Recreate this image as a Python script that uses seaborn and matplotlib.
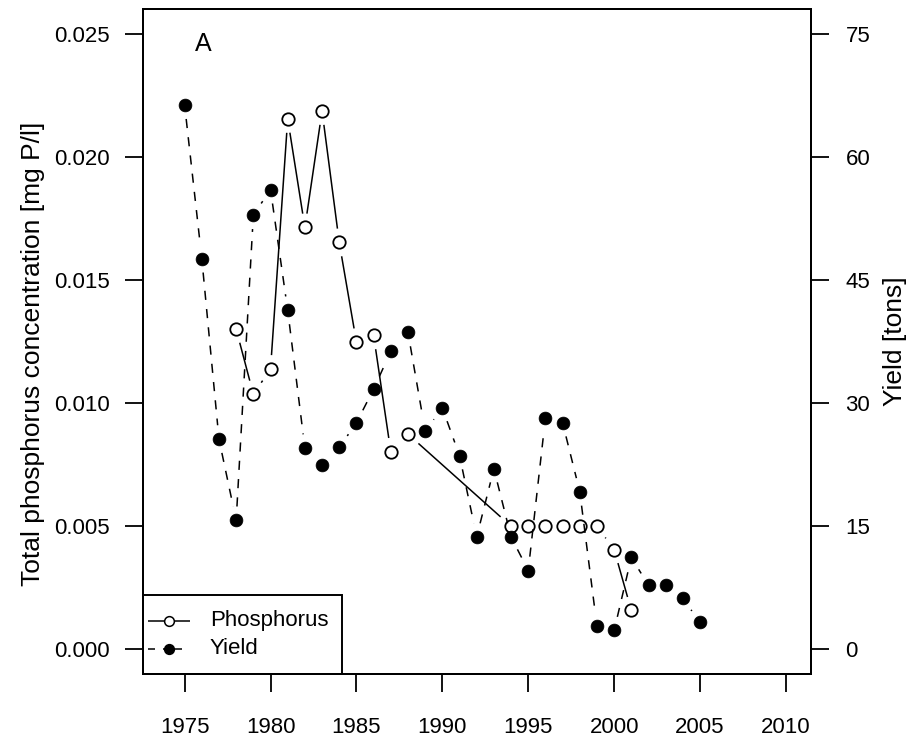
import numpy as np
import matplotlib
matplotlib.use("Agg")
import matplotlib.pyplot as plt
from matplotlib.patches import Rectangle
import seaborn as sns

# Annual fish yield (tons) and total phosphorus concentration (mg P/l)
yield_years = list(range(1975, 2006))
yield_tons = [66.3, 47.6, 25.6, 15.7, 52.9, 56.0, 41.3, 24.5, 22.5, 24.6,
              27.6, 31.7, 36.3, 38.6, 26.6, 29.4, 23.6, 13.7, 22.0, 13.7,
              9.6, 28.2, 27.6, 19.2, 2.8, 2.3, 11.2, 7.8, 7.8, 6.2, 3.3]

phos_years = [1978, 1979, 1980, 1981, 1982, 1983, 1984, 1985, 1986, 1987,
              1988, 1994, 1995, 1996, 1997, 1998, 1999, 2000, 2001]
phos_conc = [0.0130, 0.01036, 0.01138, 0.02154, 0.01713, 0.02186, 0.01652,
             0.01247, 0.01275, 0.00802, 0.00874, 0.0050, 0.0050, 0.0050,
             0.0050, 0.0050, 0.0050, 0.00405, 0.00158]

x_ticks = [1975, 1980, 1985, 1990, 1995, 2000, 2005, 2010]
phos_ticks = [0.000, 0.005, 0.010, 0.015, 0.020, 0.025]
yield_ticks = [0, 15, 30, 45, 60, 75]

sns.set_theme(style="white")
plt.rcParams["font.family"] = ["Liberation Sans", "DejaVu Sans"]

TICK_FS = 16
LABEL_FS = 19
LW = 1.1
GAP = 14  # pixels left blank between a point and its connecting line

fig = plt.figure(figsize=(9.12, 7.4), dpi=100)
ax = fig.add_axes([142.7 / 912, 66 / 740, 668 / 912, 665 / 740])
ax2 = ax.twinx()

ax.set_xlim(1972.56, 2011.44)
ax.set_ylim(-0.001, 0.026)
ax2.set_ylim(-3, 78)


def gapped(axis, xs, ys, gap):
    """Segments between consecutive points, trimmed by `gap` pixels at each end."""
    tr = axis.transData
    inv = tr.inverted()
    pts = tr.transform(np.column_stack([xs, ys]))
    out = []
    for p0, p1 in zip(pts[:-1], pts[1:]):
        d = p1 - p0
        length = np.hypot(*d)
        if length > 2 * gap:
            u = d / length
            out.append(inv.transform(np.array([p0 + u * gap, p1 - u * gap])))
    return out


# Phosphorus: solid line, open circles
for seg in gapped(ax, phos_years, phos_conc, GAP):
    ax.plot(seg[:, 0], seg[:, 1], color="black", lw=LW, solid_capstyle="butt")
sns.scatterplot(x=phos_years, y=phos_conc, ax=ax, marker="o", s=80,
                facecolor="white", edgecolor="black", linewidth=1.3, zorder=3)

# Yield: dashed line, filled circles
for seg in gapped(ax2, yield_years, yield_tons, GAP):
    ax2.plot(seg[:, 0], seg[:, 1], color="black", lw=LW, dashes=(6, 6),
             dash_capstyle="butt")
sns.scatterplot(x=yield_years, y=yield_tons, ax=ax2, marker="o", s=85,
                color="black", edgecolor="black", linewidth=0.5, zorder=3)

# Axes, ticks and labels
ax.set_xticks(x_ticks)
ax.set_xticklabels([str(t) for t in x_ticks])
ax.set_yticks(phos_ticks)
ax.set_yticklabels([f"{t:.3f}" for t in phos_ticks])
ax2.set_yticks(yield_ticks)
ax2.set_yticklabels([str(t) for t in yield_ticks])

ax.tick_params(axis="x", direction="out", length=13, width=1.3, pad=18,
               labelsize=TICK_FS, color="black", labelcolor="black", bottom=True)
ax.tick_params(axis="y", direction="out", length=13, width=1.3, pad=10.5,
               labelsize=TICK_FS, color="black", labelcolor="black", left=True)
ax2.tick_params(axis="y", direction="out", length=13, width=1.3, pad=12,
                labelsize=TICK_FS, color="black", labelcolor="black", right=True)

for a in (ax, ax2):
    for sp in a.spines.values():
        sp.set_visible(True)
        sp.set_color("black")
        sp.set_linewidth(1.4)
ax2.patch.set_visible(False)

ax.set_xlabel("")
ax.set_ylabel("Total phosphorus concentration [mg P/l]", fontsize=LABEL_FS,
              color="black")
ax.yaxis.set_label_coords(-0.146, 0.481)
ax2.set_ylabel("Yield [tons]", fontsize=LABEL_FS, color="black", rotation=90)
ax2.yaxis.set_label_coords(1.108, 0.5)

ax.text(0.09, 0.948, "A", transform=ax.transAxes, fontsize=18,
        ha="center", va="center", color="black")

# Legend box in the lower-left corner
px = lambda v: (v - 142.7) / 668   # horizontal pixel -> axes fraction
py = lambda v: (674 - v) / 665     # vertical pixel -> axes fraction
ax.add_patch(Rectangle((0, 0), px(342), py(595), transform=ax.transAxes,
                       facecolor="white", edgecolor="black", lw=1.4, zorder=5))
line_kw = dict(color="black", lw=LW, transform=ax.transAxes, zorder=6,
               solid_capstyle="butt")

# Phosphorus key: solid line through an open circle
y_p = py(620.7)
ax.plot([px(148), px(190)], [y_p, y_p], **line_kw)
ax.plot([px(169)], [y_p], marker="o", ms=7, mfc="white", mec="black", mew=1.1,
        transform=ax.transAxes, zorder=7, linestyle="none")
ax.text(px(210), y_p, "Phosphorus", transform=ax.transAxes, fontsize=TICK_FS,
        ha="left", va="center", color="black", zorder=7)

# Yield key: dashed line through a filled circle
y_y = py(649)
ax.plot([px(148), px(155)], [y_y, y_y], **line_kw)
ax.plot([px(163), px(182)], [y_y, y_y], **line_kw)
ax.plot([px(169)], [y_y], marker="o", ms=7, mfc="black", mec="black", mew=1.1,
        transform=ax.transAxes, zorder=7, linestyle="none")
ax.text(px(210), y_y, "Yield", transform=ax.transAxes, fontsize=TICK_FS,
        ha="left", va="center", color="black", zorder=7)

fig.savefig("out.png", dpi=100, facecolor="white")
